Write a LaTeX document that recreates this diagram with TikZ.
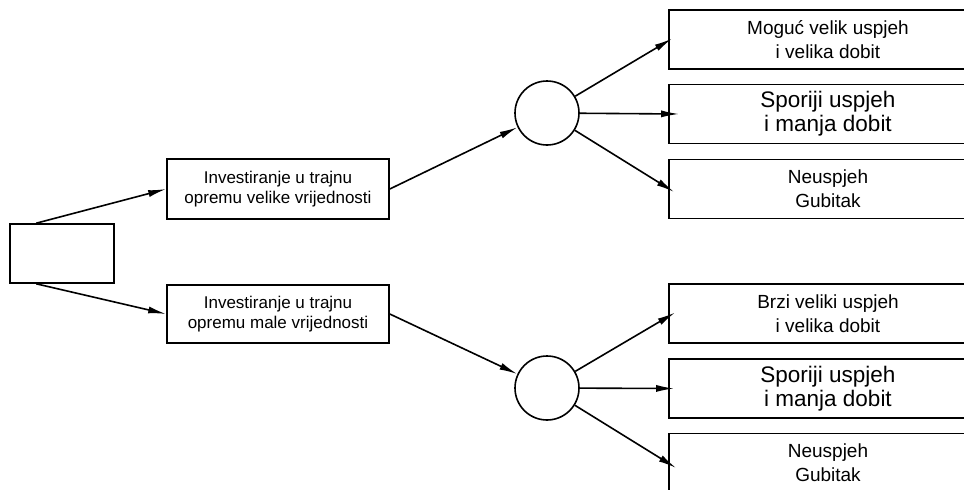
\documentclass[tikz,border=0pt]{standalone}
\usepackage{fontspec}
\setmainfont{Liberation Sans}
\usetikzlibrary{arrows.meta}
\begin{document}
\begin{tikzpicture}
[x=1pt,y=-1pt,
  boxdecorate/.style={shape=rectangle,draw,line width=1.6pt,align=center,inner sep=0pt},%
  chancedecorate/.style={shape=circle,draw,line width=1.6pt,minimum size=64pt,inner sep=0pt},%
  linedecorate/.style={-{Latex[length=18pt,width=7pt]},line width=1.6pt}]
\useasboundingbox (0,0) rectangle (964,490);
\clip (0,0) rectangle (964,490);
%% decision and investment boxes
\node (root) at (62,253.5) [boxdecorate,minimum width=104pt,minimum height=59pt] {};
\node (invA) at (278,189) [boxdecorate,minimum width=222pt,minimum height=60pt,
  font=\fontsize{17}{20}\selectfont] {Investiranje u trajnu\\opremu velike vrijednosti};
\node (invB) at (278,314) [boxdecorate,minimum width=222pt,minimum height=58pt,
  font=\fontsize{17}{20}\selectfont] {Investiranje u trajnu\\opremu male vrijednosti};
%% chance nodes
\node (chanceA) at (547,113) [chancedecorate] {};
\node (chanceB) at (547,388) [chancedecorate] {};
%% outcome boxes
\foreach \nodename/\y/\fs/\txt in {oA1/39.5/19/{Moguć velik uspjeh\\i velika dobit},
  oA2/114/22.5/{Sporiji uspjeh\\i manja dobit}, oA3/189/19/{Neuspjeh\\Gubitak},
  oB1/313.5/19/{Brzi veliki uspjeh\\i velika dobit}, oB2/388.5/22.5/{Sporiji uspjeh\\i manja dobit},
  oB3/463/19/{Neuspjeh\\Gubitak}} {
  \node (\nodename) at (828,\y) [boxdecorate,minimum width=318pt,minimum height=59pt,
    font=\fontsize{\fs}{24}\selectfont] {\txt};
}
%% edges or lines
\draw[linedecorate] ([xshift=27pt]root.north west) -- (invA.west);
\draw[linedecorate] ([xshift=27pt]root.south west) -- (invB.west);
\draw[linedecorate] (invA.east) -- (chanceA);
\draw[linedecorate] (invB.east) -- (chanceB);
\path
\foreach \startnode/\endnode/\dx/\dy in {chanceA/oA1/4/1, chanceA/oA2/11/0, chanceA/oA3/6/-3,
  chanceB/oB1/7/1, chanceB/oB2/6/0, chanceB/oB3/8/-5} {
  (\startnode) edge[linedecorate] ([xshift=\dx pt,yshift=\dy pt]\endnode.west)
};
\end{tikzpicture}
\end{document}
